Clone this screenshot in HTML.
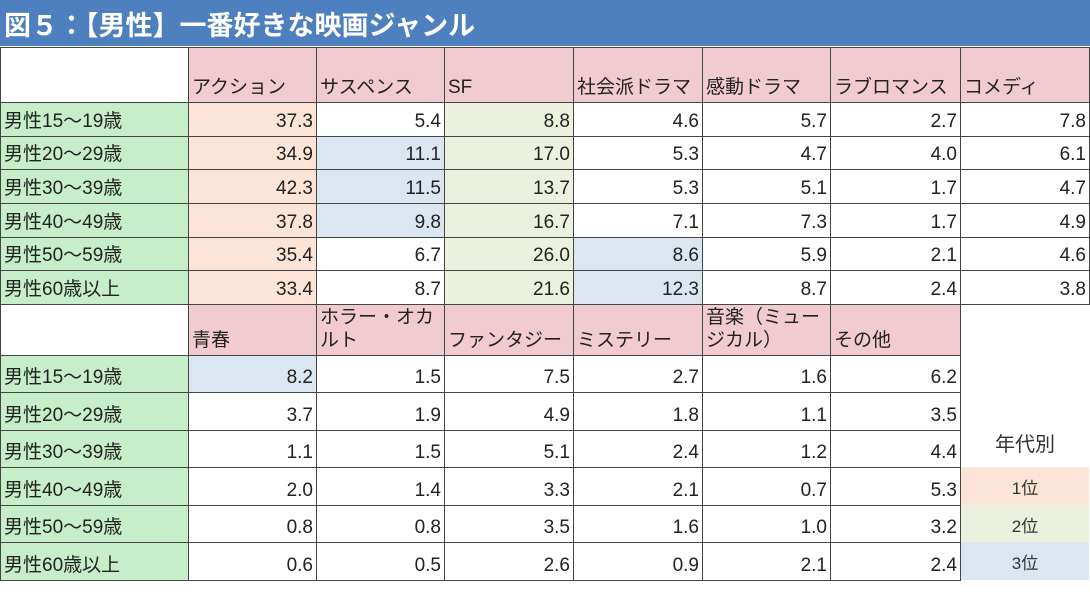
<!DOCTYPE html>
<html><head><meta charset="utf-8"><style>
body{margin:0;width:1090px;height:592px;background:#fff;position:relative;overflow:hidden;font-family:"Liberation Sans","Noto Sans CJK JP",sans-serif;}
#title{position:absolute;left:0;top:0;width:1090px;height:46px;background:#4e7fbe;color:#fff;font-size:27px;font-weight:bold;line-height:48px;padding-left:4px;box-sizing:border-box;font-family:"Noto Sans CJK JP",sans-serif;}
.c{position:absolute;box-sizing:border-box;border:1px solid #444;font-size:19px;color:#222;padding:0 3px;white-space:nowrap;overflow:hidden;font-family:"Liberation Sans","Noto Sans CJK JP",sans-serif;}
.num{text-align:right;display:flex;align-items:flex-end;justify-content:flex-end;padding-bottom:3px;}
.lab{display:flex;align-items:flex-end;padding-bottom:3px;}
.hd{background:#f2cbd0;display:flex;align-items:flex-end;padding-bottom:3px;line-height:23px;white-space:normal;}
.lg{position:absolute;text-align:center;font-size:17px;color:#333;font-family:"Liberation Sans","Noto Sans CJK JP",sans-serif;}
</style></head><body>
<div id="title">図５：【男性】一番好きな映画ジャンル</div>
<script>
const ages=["男性15～19歳","男性20～29歳","男性30～39歳","男性40～49歳","男性50～59歳","男性60歳以上"];
const genresA=["アクション","サスペンス","SF","社会派ドラマ","感動ドラマ","ラブロマンス","コメディ"];
const genresB=["青春","ホラー・オカルト","ファンタジー","ミステリー","音楽（ミュージカル）","その他"];
const valuesA=[[37.3,5.4,8.8,4.6,5.7,2.7,7.8],[34.9,11.1,17.0,5.3,4.7,4.0,6.1],[42.3,11.5,13.7,5.3,5.1,1.7,4.7],[37.8,9.8,16.7,7.1,7.3,1.7,4.9],[35.4,6.7,26.0,8.6,5.9,2.1,4.6],[33.4,8.7,21.6,12.3,8.7,2.4,3.8]];
const valuesB=[[8.2,1.5,7.5,2.7,1.6,6.2],[3.7,1.9,4.9,1.8,1.1,3.5],[1.1,1.5,5.1,2.4,1.2,4.4],[2.0,1.4,3.3,2.1,0.7,5.3],[0.8,0.8,3.5,1.6,1.0,3.2],[0.6,0.5,2.6,0.9,2.1,2.4]];
const colX=[0,188,316,444,573,702,830,960,1089];
const rankColors={1:"#fce4d6",2:"#ebf1de",3:"#dce6f1"};
function cell(x0,x1,y0,y1,cls,txt,bg,name,html){
  const d=document.createElement('div');
  d.className='c '+cls;
  d.style.left=x0+'px';d.style.top=y0+'px';d.style.width=(x1-x0+1)+'px';d.style.height=(y1-y0+1)+'px';
  if(bg)d.style.background=bg;
  d.textContent=txt;
  
  
  document.body.appendChild(d);
}
function ranks(rowAll){const s=[...rowAll].map((v,i)=>[v,i]).sort((a,b)=>b[0]-a[0]);const r={};s.slice(0,3).forEach((p,k)=>r[p[1]]=k+1);return r;}
function block(genres,vals,yHead,yHead2,rowsY,offset,hiLookup){
  cell(0,188,yHead,yHead2,'lab','',"#fff",'header-corner');
  genres.forEach((g,j)=>cell(colX[j+1],colX[j+2],yHead,yHead2,'hd',g,null,'genre-header'));
  vals.forEach((row,i)=>{
    cell(0,188,rowsY[i],rowsY[i+1],'lab',ages[i],"#c5eec9",'age-label');
    row.forEach((v,j)=>{
      const r=hiLookup[i][j+offset];
      cell(colX[j+1],colX[j+2],rowsY[i],rowsY[i+1],'num',v.toFixed(1),r?rankColors[r]:"#fff",'value-cell');
    });
  });
}
const hi=ages.map((_,i)=>ranks(valuesA[i].concat(valuesB[i])));
block(genresA,valuesA,47,102,[102,136,169,203,237,270,304],0,hi);
block(genresB,valuesB,304,355,[355,392,430,467,505,542,580],7,hi);
const legendLabels=["年代別","1位","2位","3位"];
const legendY=[430,467,505,542,580];
legendLabels.forEach((t,k)=>{
  const d=document.createElement('div');
  d.className='lg';
  d.style.left='961px';d.style.width='128px';d.style.top=legendY[k]+'px';d.style.height=(legendY[k+1]-legendY[k])+'px';
  d.style.lineHeight=(legendY[k+1]-legendY[k]+(k?6:-6))+'px';
  if(k){d.style.background=rankColors[k];}else{d.style.fontSize='20px';}
  d.textContent=t;
  
  
  document.body.appendChild(d);
});
</script>
</body></html>
